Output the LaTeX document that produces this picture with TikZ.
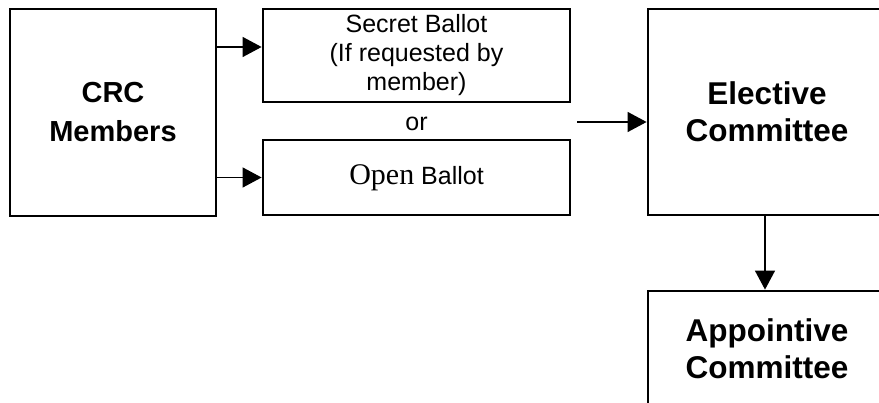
\documentclass[tikz,border=0pt]{standalone}
\usepackage{fontspec}
\setmainfont{Liberation Sans}
\newfontfamily\timesfont{Liberation Serif}
\usetikzlibrary{arrows.meta}

\begin{document}
\begin{tikzpicture}[x=1pt,y=1pt,
    box/.style={draw,line width=2.8pt,inner sep=0pt,align=center},
    bigbox/.style={box,font=\fontsize{29}{39}\selectfont\bfseries},
    cmtbox/.style={box,font=\fontsize{31.5}{37}\selectfont\bfseries},
    ballot/.style={box,font=\fontsize{25}{29}\selectfont},
    arr/.style={line width=1.3pt,-{Triangle[length=19pt,width=20pt]}}]
  \useasboundingbox (0,0) rectangle (879,403);
  \clip (0,0) rectangle (879,403);
  \node[bigbox,minimum width=206pt,minimum height=207pt] (crc) at (113,290.5) {CRC\\Members};
  \node[ballot,minimum width=307pt,minimum height=93pt] (secret) at (416.5,347.5) {Secret Ballot\\(If requested by\\member)};
  \node[ballot,minimum width=307pt,minimum height=75pt] (open) at (416.5,225.5) {{\fontsize{30}{30}\selectfont\timesfont Open} Ballot};
  \node[font=\fontsize{25}{29}\selectfont,inner sep=0pt] (or) at (416.5,279) {or};
  \node[cmtbox,minimum width=238pt,minimum height=206pt] (elective) at (767,291) {Elective\\Committee};
  \node[cmtbox,minimum width=238pt,minimum height=116pt] (appointive) at (767,54) {Appointive\\Committee};
  \coordinate (orend) at (577,281);
  % connectors
  \path[arr] ([yshift=8.5pt]secret.west -| crc.east) edge ([yshift=8.5pt]secret.west);
  \path[arr] (open.west -| crc.east) edge (open.west);
  \path[arr] (orend) edge (orend -| elective.west);
  \path[arr] ([xshift=-2pt]elective.south) edge ([xshift=-2pt]appointive.north);
\end{tikzpicture}
\end{document}
